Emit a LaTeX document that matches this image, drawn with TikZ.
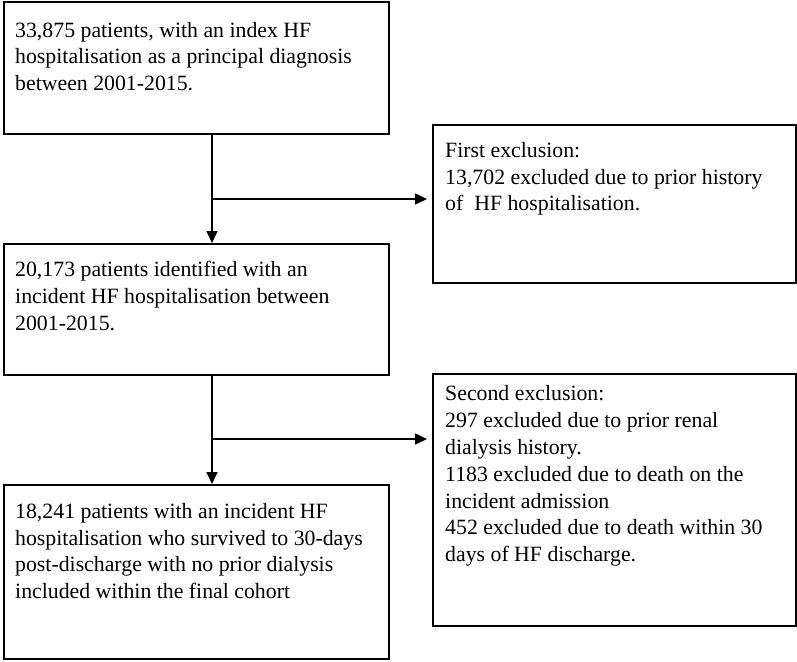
\documentclass[tikz,border=0pt]{standalone}
\usepackage{fontspec}
\setmainfont{Liberation Serif}
\usetikzlibrary{arrows.meta}
\begin{document}
\begin{tikzpicture}[x=1pt,y=-1pt,
  boxframe/.style={draw, line width=1.6pt, inner sep=0pt},
  boxtext/.style={anchor=north west, inner sep=0pt, align=left,
    font=\fontsize{21.8}{26.8}\selectfont},
  conn/.style={line width=1.6pt},
  arr/.style={conn, -{Triangle[length=12pt,width=11pt]}}]
\useasboundingbox (0,0) rectangle (797,661);
% boxes
\node[boxframe, minimum width=385pt, minimum height=132pt, anchor=north west] (b1) at (3,1) {};
\node[boxframe, minimum width=363pt, minimum height=158pt, anchor=north west] (b2) at (432,124) {};
\node[boxframe, minimum width=385pt, minimum height=131pt, anchor=north west] (b3) at (3,243) {};
\node[boxframe, minimum width=363pt, minimum height=252pt, anchor=north west] (b4) at (432,373) {};
\node[boxframe, minimum width=385pt, minimum height=174pt, anchor=north west] (b5) at (3,484) {};
% texts
\node[boxtext] (t1) at (15,18.2) {\strut 33,875 patients, with an index HF\\hospitalisation as a principal diagnosis\\between 2001-2015.};
\node[boxtext] (t2) at (445,138.4) {\strut First exclusion:\\13,702 excluded due to prior history\\of\ \ HF hospitalisation.};
\node[boxtext] (t3) at (15,258) {\strut 20,173 patients identified with an\\incident HF hospitalisation between\\2001-2015.};
\node[boxtext] (t4) at (445,382) {\strut Second exclusion:\\297 excluded due to prior renal\\dialysis history.\\1183 excluded due to death on the\\incident admission\\452 excluded due to death within 30\\days of HF discharge.};
\node[boxtext] (t5) at (15,499.3) {\strut 18,241 patients with an incident HF\\hospitalisation who survived to 30-days\\post-discharge with no prior dialysis\\included within the final cohort};
% connectors
\coordinate (j1) at (212,199);
\coordinate (j2) at (212,439);
\coordinate (e1) at (427,199);
\coordinate (e2) at (427,439);
\draw[arr] (b1.south -| j1) -- (b3.north -| j1);
\draw[arr] (j1) -- (e1);
\draw[arr] (b3.south -| j2) -- (b5.north -| j2);
\draw[arr] (j2) -- (e2);
\end{tikzpicture}
\end{document}
